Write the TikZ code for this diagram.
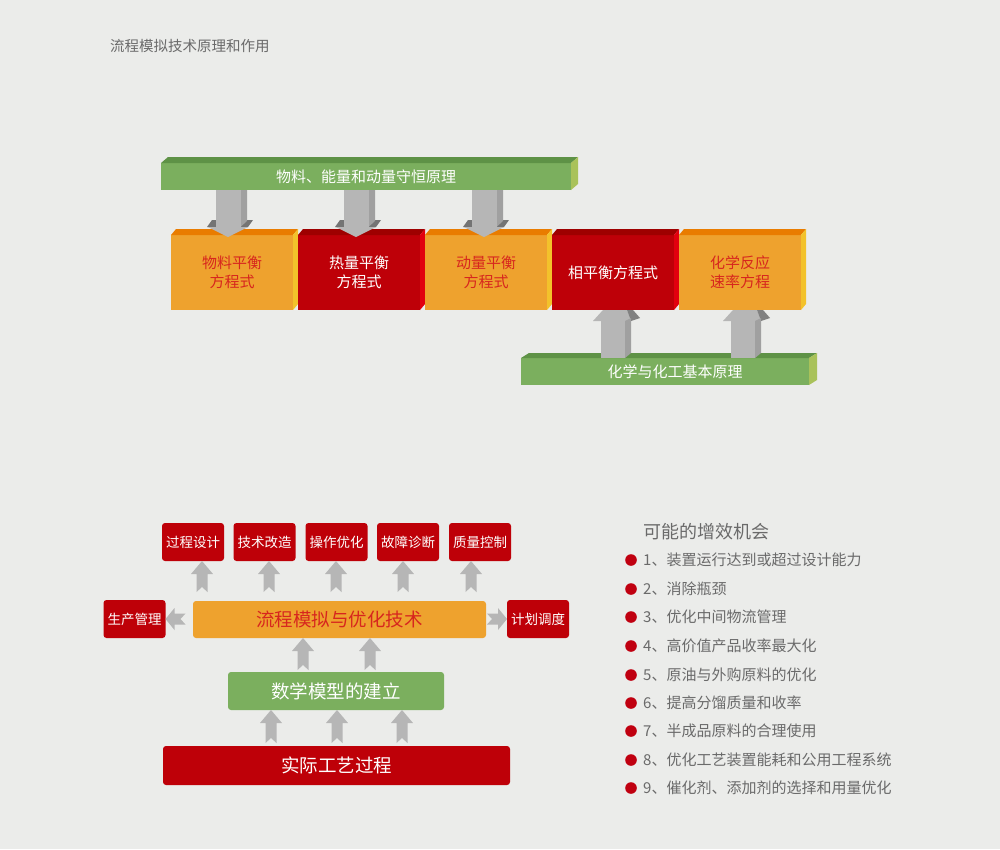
\documentclass[tikz,border=0pt]{standalone}
\usepackage{fontspec}
\setmainfont{Noto Sans CJK SC}
\definecolor{bg}{HTML}{EBECEA}
\definecolor{gfront}{HTML}{7BAF5E}
\definecolor{gtop}{HTML}{5E9246}
\definecolor{gside}{HTML}{A9C25A}
\definecolor{ofront}{HTML}{EEA22E}
\definecolor{otop}{HTML}{E97C00}
\definecolor{oside}{HTML}{F3C22B}
\definecolor{rfront}{HTML}{BE0008}
\definecolor{rtop}{HTML}{9E0000}
\definecolor{rside}{HTML}{E2000E}
\definecolor{alight}{HTML}{B6B6B6}
\definecolor{aside}{HTML}{A0A0A0}
\definecolor{adark}{HTML}{747474}
\definecolor{redtxt}{HTML}{D7261E}
\definecolor{graytxt}{HTML}{6A6A6A}
\definecolor{bullet}{HTML}{C00010}
\newcommand\faces[5]{%
 \fill[#4] (#1.north west) -- ++(#2,-#3) -- ([shift={(#2,-#3)}]#1.north east) -- (#1.north east) -- cycle;
 \fill[#5] (#1.north east) -- ++(#2,-#3) -- ([shift={(#2,-#3)}]#1.south east) -- (#1.south east) -- cycle;}
\newcommand\darr[2]{%
 \begin{scope}[shift={(#1,0 |- #2.south)}]
 \fill[adark] (-21,37) -- (-16,30) -- (25,30) -- (20,37) -- cycle;
 \fill[aside] (12.5,0) -- (19,0) -- (19,31) -- (12.5,37) -- cycle;
 \fill[alight] (-12.5,0) rectangle (12.5,37);
 \fill[alight] (-20,37) -- (20,37) -- (0,47) -- cycle;
 \end{scope}}
\newcommand\uarr[2]{%
 \begin{scope}[shift={(#1,0 |- #2.south)}]
 \fill[alight] (-20,11) -- (-10,0) -- (14,0) -- (18,11) -- cycle;
 \fill[adark!80!alight] (14,0) -- (20,0) -- (27,8) -- (18,11) -- cycle;
 \fill[aside] (12,11) -- (18,8) -- (18,43) -- (12,48) -- cycle;
 \fill[alight] (-12,11) rectangle (12,48);
 \end{scope}}
\newcommand\chev[4]{\fill[alight, shift={#1}, rotate=#2] (0,0) -- (11,#4) -- (5.5,#4) -- (5.5,#3) -- (0,#3-5) -- (-5.5,#3) -- (-5.5,#4) -- (-11,#4) -- cycle;}
\begin{document}
\begin{tikzpicture}[x=1pt,y=-1pt,
  face/.style={inner sep=0pt, outer sep=0pt, align=center, anchor=north west},
  bigbox/.style={face, minimum width=122, minimum height=75, font=\fontsize{15}{19}\selectfont},
  obox/.style={bigbox, fill=ofront, text=redtxt},
  rbox/.style={bigbox, fill=rfront, text=white},
  small/.style={inner sep=0pt, outer sep=0pt, rounded corners=3, fill=rfront, text=white, minimum width=62, minimum height=38, font=\fontsize{13.5}{16}\selectfont},
  wide/.style={inner sep=0pt, outer sep=0pt, rounded corners=3, font=\fontsize{18.5}{22}\selectfont},
  item/.style={anchor=west, inner sep=0pt, text=graytxt, font=\fontsize{15}{18}\selectfont}]
\useasboundingbox[fill=bg] (0,0) rectangle (1000,849);

\node[anchor=west, inner sep=0pt, text=graytxt, font=\fontsize{14.5}{17}\selectfont] (title) at (110,46) {流程模拟技术原理和作用};

% top green bar
\node[face, fill=gfront, minimum width=410, minimum height=27, text=white, font=\fontsize{15}{18}\selectfont] (g1) at (161,163) {物料、能量和动量守恒原理};
\faces{g1}{7}{6}{gtop}{gside}

% equation boxes
\node[obox] (b1) at (171,235) {物料平衡\\方程式};
\faces{b1}{5}{6}{otop}{oside}
\node[rbox] (b2) at (298,235) {热量平衡\\方程式};
\faces{b2}{5}{6}{rtop}{rside}
\node[obox] (b3) at (425,235) {动量平衡\\方程式};
\faces{b3}{5}{6}{otop}{oside}
\node[rbox] (b4) at (552,235) {相平衡方程式};
\faces{b4}{5}{6}{rtop}{rside}
\node[obox] (b5) at (679,235) {化学反应\\速率方程};
\faces{b5}{5}{6}{otop}{oside}

% bottom green bar
\node[face, fill=gfront, minimum width=288, minimum height=27] (g2) at (521,358) {};
\faces{g2}{8}{5}{gtop}{gside}
\node[inner sep=0pt, text=white, font=\fontsize{15}{18}\selectfont] (g2t) at (675,372) {化学与化工基本原理};

% 3D arrows
\darr{228}{g1}
\darr{356}{g1}
\darr{484}{g1}
\uarr{613}{b4}
\uarr{743}{b5}

% lower diagram
\node[small] (t1) at (193,542) {过程设计};
\node[small] (t2) at (264.5,542) {技术改造};
\node[small] (t3) at (336.5,542) {操作优化};
\node[small] (t4) at (408,542) {故障诊断};
\node[small] (t5) at (480,542) {质量控制};
\node[small] (lb) at (134.5,619) {生产管理};
\node[small] (rb) at (538,619) {计划调度};
\node[wide, fill=ofront, text=redtxt, minimum width=293, minimum height=37] (core) at (339.5,619.5) {流程模拟与优化技术};
\node[wide, fill=gfront, text=white, minimum width=216, minimum height=38] (model) at (336,691) {数学模型的建立};
\node[wide, fill=rfront, text=white, minimum width=347, minimum height=39] (proc) at (336.5,765.5) {实际工艺过程};

\chev{(202,0 |- t1.south)}{0}{31}{13}
\chev{(269,0 |- t2.south)}{0}{31}{13}
\chev{(336,0 |- t3.south)}{0}{31}{13}
\chev{(403,0 |- t4.south)}{0}{31}{13}
\chev{(471,0 |- t5.south)}{0}{31}{13}
\chev{(lb.east |- 0,619)}{90}{20}{9}
\chev{(rb.west |- 0,619)}{-90}{20}{9}
\chev{(303,0 |- core.south)}{0}{32}{13}
\chev{(370,0 |- core.south)}{0}{32}{13}
\chev{(271,0 |- model.south)}{0}{33}{13}
\chev{(337,0 |- model.south)}{0}{33}{13}
\chev{(402,0 |- model.south)}{0}{33}{13}

% list
\node[anchor=west, inner sep=0pt, text=graytxt, font=\fontsize{18}{21}\selectfont] (lt) at (643,532) {可能的增效机会};
\foreach \i/\y/\t in {1/560/1、装置运行达到或超过设计能力, 2/589/2、消除瓶颈, 3/617/3、优化中间物流管理, 4/646/4、高价值产品收率最大化, 5/675/5、原油与外购原料的优化, 6/703/6、提高分馏质量和收率, 7/731/7、半成品原料的合理使用, 8/760/8、优化工艺装置能耗和公用工程系统, 9/788/9、催化剂、添加剂的选择和用量优化}{
  \fill[bullet] (631,\y) circle (5.8);
  \node[item] (it\i) at (643,\y) {\t};
}
\end{tikzpicture}
\end{document}
